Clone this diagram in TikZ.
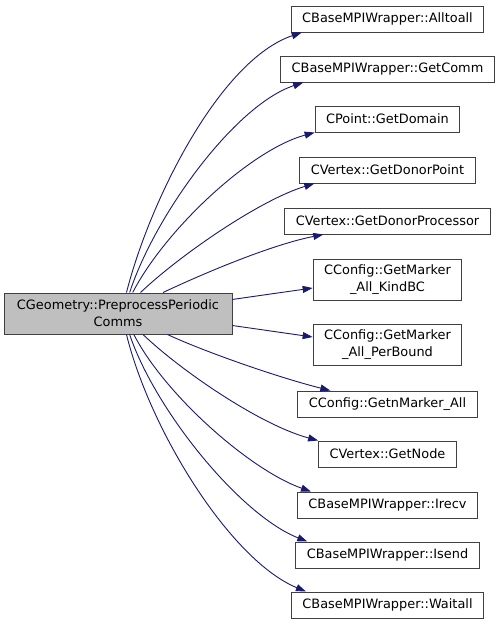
\documentclass[tikz,border=0pt]{standalone}
\usepackage{fontspec}
\setmainfont{DejaVu Sans}
\usetikzlibrary{arrows.meta}
\definecolor{edgeblue}{RGB}{25,25,112}

\begin{document}
\begin{tikzpicture}[x=1pt, y=-1pt,
  callee/.style={draw=black!75, line width=1pt, fill=white, align=center,
                 inner xsep=11pt, inner ysep=2pt, minimum height=26pt,
                 font=\fontsize{12.9}{17}\selectfont},
  callee2/.style={callee, minimum height=41pt},
  caller/.style={callee2, fill=black!25, minimum width=228pt},
  call/.style={-{Triangle[length=10pt, width=7pt]}, edgeblue, line width=0.9pt}
]
\useasboundingbox (0,0) rectangle (501,625);

\def\xr{387.5}

\node[caller] (main) at (118,313.5) {CGeometry::PreprocessPeriodic\\Comms};

\node[callee] (alltoall) at (\xr,19) {CBaseMPIWrapper::Alltoall};
\node[callee] (getcomm) at (\xr,69) {CBaseMPIWrapper::GetComm};
\node[callee] (getdomain) at (\xr,119) {CPoint::GetDomain};
\node[callee] (donorpoint) at (\xr,170) {CVertex::GetDonorPoint};
\node[callee] (donorproc) at (\xr,221) {CVertex::GetDonorProcessor};
\node[callee2] (kindbc) at (\xr,279.5) {CConfig::GetMarker\\\_All\_KindBC};
\node[callee2] (perbound) at (\xr,345) {CConfig::GetMarker\\\_All\_PerBound};
\node[callee] (nmarker) at (\xr,404) {CConfig::GetnMarker\_All};
\node[callee] (getnode) at (\xr,454) {CVertex::GetNode};
\node[callee] (irecv) at (\xr,505) {CBaseMPIWrapper::Irecv};
\node[callee] (isend) at (\xr,555) {CBaseMPIWrapper::Isend};
\node[callee] (waitall) at (\xr,605) {CBaseMPIWrapper::Waitall};

% calls going up
\draw[call] (main.68.7) .. controls (150,200) and (220,60) .. ([xshift=11pt]alltoall.south west);
\draw[call] (main.61.8) .. controls (155,215) and (235,105) .. ([xshift=23pt]getcomm.south west);
\draw[call] (main.55.7) .. controls (165,230) and (250,150) .. (getdomain.south west);
\draw[call] (main.43) .. controls (180,255) and (260,200) .. ([xshift=15pt]donorpoint.south west);
\draw[call] (main.25) .. controls (200,275) and (270,245) .. ([xshift=39pt]donorproc.south west);
% straight ones
\draw[call] (main.7.7) -- ([yshift=-8.5pt]kindbc.west);
\draw[call] (main.-6.75) -- ([yshift=8pt]perbound.west);
% calls going down
\draw[call] (main.-23.1) .. controls (205,352) and (280,378) .. ([xshift=33pt]nmarker.north west);
\draw[call] (main.-40.5) .. controls (180,370) and (260,425) .. (getnode.north west);
\draw[call] (main.-53.8) .. controls (165,395) and (250,470) .. ([xshift=14pt]irecv.north west);
\draw[call] (main.-61.8) .. controls (155,410) and (240,515) .. ([xshift=12pt]isend.north west);
\draw[call] (main.-68.7) .. controls (150,430) and (230,560) .. ([xshift=15pt]waitall.north west);

\end{tikzpicture}
\end{document}
